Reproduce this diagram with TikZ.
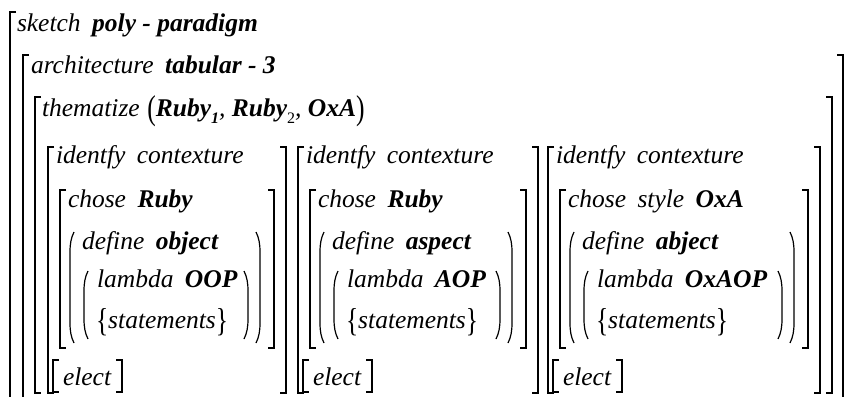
\documentclass[tikz,border=0pt]{standalone}
\usepackage{graphicx}
\usepackage{fontspec}
\setmainfont{Liberation Serif}
\tikzset{
  txt/.style={anchor=base west, inner sep=0pt, outer sep=0pt, font=\fontsize{25.5}{30}\selectfont\itshape},
  brk/.style={line width=1.7pt, line cap=butt, line join=miter},
  prn/.style={line width=1.2pt},
}
\newcommand{\ws}{\hspace{0.45em}}
\newcommand{\LB}[3]{\draw[brk] (#1+6,#2) -- (#1,#2) -- (#1,#3) -- (#1+6,#3);}
\newcommand{\LBopen}[2]{\draw[brk] (#1+6,#2) -- (#1,#2) -- (#1,402);}
\newcommand{\RB}[3]{\draw[brk] (#1-6,#2) -- (#1,#2) -- (#1,#3) -- (#1-6,#3);}
\newcommand{\RBopen}[2]{\draw[brk] (#1-6,#2) -- (#1,#2) -- (#1,402);}
\newcommand{\LP}[3]{\draw[prn] (#1+4,#2) .. controls (#1+1,#2+6) and (#1,#2+12) .. (#1,#2+20) -- (#1,#3-20) .. controls (#1,#3-12) and (#1+1,#3-6) .. (#1+4,#3);}
\newcommand{\RP}[3]{\draw[prn] (#1-4,#2) .. controls (#1-1,#2+6) and (#1,#2+12) .. (#1,#2+20) -- (#1,#3-20) .. controls (#1,#3-12) and (#1-1,#3-6) .. (#1-4,#3);}
\newcommand{\brc}[1]{\raisebox{-0.12em}{\scalebox{1}[1.3]{\upshape#1}}}
\newcommand{\bpar}[1]{\raisebox{-0.14em}{\scalebox{1}[1.35]{\upshape#1}}}
\newcommand{\subs}[1]{\raisebox{-0.3em}{\fontsize{16}{16}\selectfont #1}}
\newcommand{\colblock}[6]{%
  \node[txt] (#2id) at (#1+56,163) {identfy\ws contexture};
  \node[txt] (#2ch) at (#1+68,207) {chose\ws #3};
  \node[txt] (#2df) at (#1+82,249) {define\ws\textbf{#4}};
  \node[txt] (#2lm) at (#1+97,287) {lambda\ws\textbf{#5}};
  \node[txt] (#2st) at (#1+96,328) {\brc{\{}statements\brc{\}}};
  \node[txt] (#2el) at (#1+63,385) {elect};
  \LB{#1+48}{147}{393} \RB{#1+286+#6}{147}{393}
  \LB{#1+60}{190}{348} \RB{#1+274+#6}{190}{348}
  \LP{#1+70}{232}{343} \RP{#1+260+#6}{232}{343}
  \LP{#1+84}{271}{339} \RP{#1+248+#6}{271}{339}
  \LB{#1+53}{360}{392} \RB{#1+122}{360}{392}
}
\begin{document}
\begin{tikzpicture}[x=1pt,y=-1pt]
\useasboundingbox (0,0) rectangle (845,396);
\node[txt] (sk) at (17,32) {sketch\ws\textbf{poly - paradigm}};
\node[txt] (ar) at (31,74) {architecture\ws\textbf{tabular - 3}};
\node[txt] (th) at (42,116) {thematize\hspace{0.3em}\bpar{(}\textbf{Ruby}\subs{\textbf{1}}, \textbf{Ruby}\subs{\upshape 2}, \textbf{OxA}\bpar{)}};
\LBopen{10}{12}
\LBopen{23}{55} \RBopen{843}{55}
\LB{35}{97}{393} \RB{832}{97}{393}
\colblock{0}{a}{\textbf{Ruby}}{object}{OOP}{0}
\colblock{250}{b}{\textbf{Ruby}}{aspect}{AOP}{2}
\colblock{500}{c}{style\ws\textbf{OxA}}{abject}{OxAOP}{34}
\end{tikzpicture}
\end{document}
